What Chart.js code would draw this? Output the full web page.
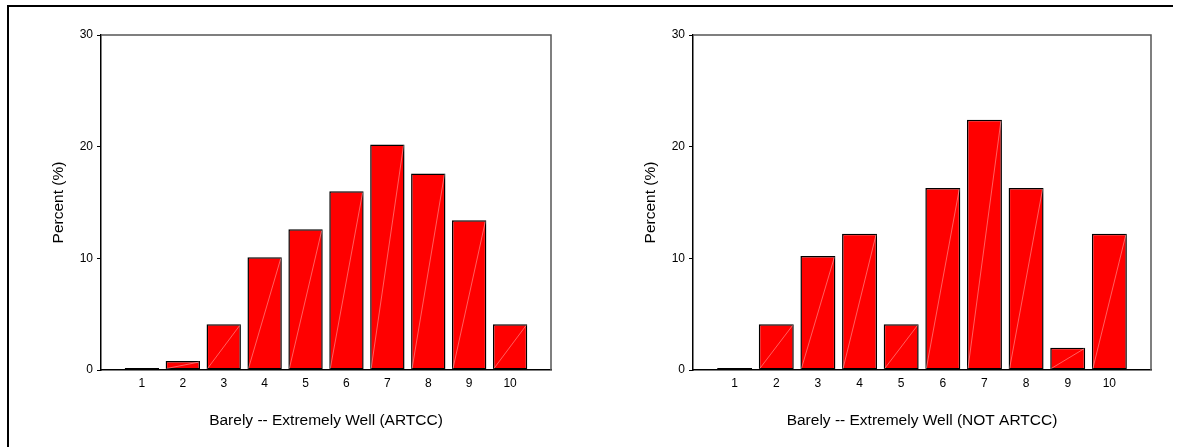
<!DOCTYPE html>
<html>
<head>
<meta charset="utf-8">
<script src="https://cdn.jsdelivr.net/npm/chart.js@4"></script>
<style>
  html, body { margin: 0; padding: 0; background: #fff; }
  #page { position: relative; width: 1178px; height: 447px; overflow: hidden; }
  .box { position: absolute; top: 0; height: 447px; }
  #frame { position: absolute; left: 7px; top: 5px; width: 1164px; height: 460px;
           border-top: 2px solid #000; border-left: 2px solid #000; pointer-events: none; }
</style>
</head>
<body>
<div id="page">
  <div class="box" style="left:0; width:590px;"><canvas id="chartA"></canvas></div>
  <div class="box" style="left:590px; width:588px;"><canvas id="chartB"></canvas></div>
  <div id="frame"></div>
</div>
<script>
const categories = [1, 2, 3, 4, 5, 6, 7, 8, 9, 10];
const artccValues = [0, 0.8, 4.1, 10.1, 12.6, 16.0, 20.2, 17.6, 13.4, 4.1];
const notArtccValues = [0, 4.1, 10.2, 12.2, 4.1, 16.3, 22.4, 16.3, 2.0, 12.2];
const yTicks = [0, 10, 20, 30];

const FONT = 'Arial, "Liberation Sans", sans-serif';

// box round the plot area (top + right side)
const plotFrame = {
    id: "plotFrame",
    afterDraw(chart) {
        const a = chart.chartArea;
        const ctx = chart.ctx;
        ctx.save();
        ctx.strokeStyle = "#555";
        ctx.lineWidth = 1.5;
        ctx.beginPath();
        ctx.moveTo(a.left, a.top);
        ctx.lineTo(a.right, a.top);
        ctx.lineTo(a.right, a.bottom);
        ctx.stroke();
        ctx.restore();
    }
};

// the faint diagonal seam inside each bar
const barSeam = {
    id: "barSeam",
    afterDatasetsDraw(chart) {
        const ctx = chart.ctx;
        chart.getDatasetMeta(0).data.forEach(bar => {
            if (Math.abs(bar.base - bar.y) < 3) return;
            const half = bar.width / 2 - 1;
            ctx.save();
            ctx.strokeStyle = "rgba(255,200,200,0.8)";
            ctx.lineWidth = 0.6;
            ctx.beginPath();
            ctx.moveTo(bar.x - half, bar.base - 1);
            ctx.lineTo(bar.x + half, bar.y + 1);
            ctx.stroke();
            ctx.restore();
        });
    }
};

function makeChart(id, values, title, axisWidth, padRight) {
    return new Chart(document.getElementById(id), {
        type: "bar",
        data: {
            labels: categories,
            datasets: [{
                data: values,
                backgroundColor: "#ff0000",
                borderColor: "#000",
                borderWidth: 1.5,
                borderSkipped: false,
                minBarLength: 2,
                barPercentage: 0.84,
                categoryPercentage: 1
            }]
        },
        options: {
            responsive: true,
            maintainAspectRatio: false,
            animation: false,
            layout: { padding: { left: 0, right: padRight, top: 35, bottom: 0 } },
            plugins: { legend: { display: false }, tooltip: { enabled: false } },
            scales: {
                x: {
                    type: "linear",
                    offset: false,
                    min: 0,
                    max: 11,
                    afterBuildTicks: s => { s.ticks = categories.map(v => ({ value: v })); },
                    afterFit: s => { s.height = 77; },
                    grid: { display: true, drawOnChartArea: false, drawTicks: false },
                    border: { display: true, color: "#000", width: 1.5 },
                    ticks: { color: "#000", padding: 6, font: { family: FONT, size: 12 } },
                    title: {
                        display: true,
                        text: title,
                        color: "#000",
                        font: { family: FONT, size: 15.5 },
                        padding: { top: 0, bottom: 17 }
                    }
                },
                y: {
                    min: 0,
                    max: 30,
                    afterBuildTicks: s => { s.ticks = yTicks.map(v => ({ value: v })); },
                    afterFit: s => { s.width = axisWidth; },
                    grid: { display: true, drawOnChartArea: false, drawTicks: true, tickLength: 4, color: "#000", lineWidth: 1 },
                    border: { display: true, color: "#000", width: 1.5 },
                    ticks: { color: "#000", padding: 4, font: { family: FONT, size: 12 } },
                    title: {
                        display: true,
                        text: "Percent (%)",
                        color: "#000",
                        font: { family: FONT, size: 15.5 },
                        padding: { top: axisWidth - 52, bottom: 0 }
                    }
                }
            }
        },
        plugins: [plotFrame, barSeam]
    });
}

makeChart("chartA", artccValues, "Barely -- Extremely Well (ARTCC)", 101, 39);
makeChart("chartB", notArtccValues, "Barely -- Extremely Well (NOT ARTCC)", 103, 27);
</script>
</body>
</html>
